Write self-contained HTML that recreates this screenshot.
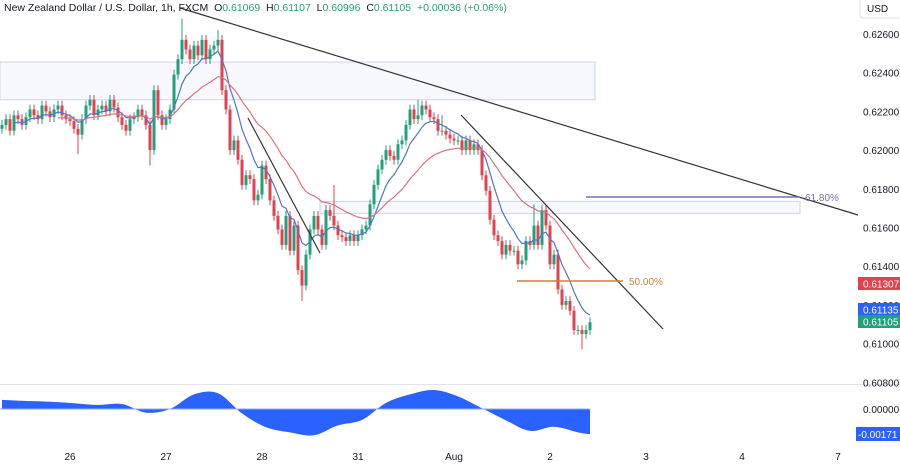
<!DOCTYPE html>
<html><head><meta charset="utf-8"><style>
body{margin:0;background:#fff;font-family:"Liberation Sans",sans-serif;}
svg{display:block}
</style></head><body>
<svg id="chart" width="900" height="465">
<rect x="0" y="0" width="900" height="465" fill="#fff"/>
<g id="marks"></g>
</svg>
<script>
const closes=[0.6213,0.6216,0.6210,0.6218,0.6216,0.6213,0.6217,0.6221,0.6218,0.6216,0.6223,0.6220,0.6217,0.6221,0.6223,0.6218,0.6216,0.6215,0.6211,0.6208,
0.6216,0.6223,0.6226,0.6218,0.6221,0.6223,0.6220,0.6226,0.6222,0.6217,0.6213,0.6210,0.6216,0.6217,0.6221,0.6218,0.6213,0.6200,
0.6231,0.6218,0.6213,0.6216,0.6221,0.6239,0.6247,0.6257,
0.6252,0.6247,0.6254,0.6249,0.6257,0.6247,0.6252,0.6254,0.6257,0.6231,
0.6221,0.6200,0.6205,0.6195,0.6182,0.6187,0.6185,0.6174,0.6177,0.6192,0.6185,0.6174,0.6166,0.6159,0.6151,0.6166,0.6148,0.6161,0.6138,0.6130,
0.6146,0.6159,0.6166,0.6159,0.6151,0.6169,0.6166,0.6161,0.6156,0.6155,0.6153,0.6156,0.6153,0.6156,0.6159,
0.6161,0.6172,0.6182,0.6190,0.6195,0.6200,0.6197,0.6195,0.6203,0.6205,0.6213,0.6221,0.6216,0.6218,0.6223,0.6221,0.6217,
0.6216,0.6210,0.6210,0.6208,0.6206,0.6205,0.6205,0.6200,0.6205,0.6200,0.6203,0.6200,0.6187,0.6179,0.6164,
0.6156,0.6153,0.6146,0.6151,0.6148,0.6148,0.6141,0.6143,0.6153,0.6151,0.6161,0.6151,0.6169,0.6161,0.6141,
0.6146,0.6128,0.6120,0.6122,0.6117,0.6107,0.6107,0.6105,0.6107,0.6111];
const extremeIdx=[19,37,45,54,75,83,104,110,133,145];
const extremePx=[0.6198,0.6192,0.6268,0.6262,0.6122,0.6182,0.6226,0.6218,0.6172,0.6097];
const oscVals=[0.00062,0.00055,0.00050,0.00040,0.00028,0.00034,-0.00025,0.00000,0.00100,0.00108,-0.00030,-0.00125,-0.00160,-0.00180,-0.00112,-0.00075,0.00042,0.00100,0.00130,0.00086,0.00005,-0.00078,-0.00150,-0.00122,-0.00160,-0.00173];
const priceTicks=[0.626,0.624,0.622,0.620,0.618,0.616,0.614,0.612,0.610,0.608];
const dateLabels=["26","27","28","31","Aug","2","3","4","7"];
const dayStart=[17,41,65,89,113,137,161,185,209];
const WICK=0.00025;

const NS="http://www.w3.org/2000/svg";
const g=document.getElementById('marks');
const py=p=>34+(0.626-p)*19350;
const cx=i=>2+i*4;
const oy=v=>409-v*14620;
function mk(t,a,par){const e=document.createElementNS(NS,t);for(const k in a)e.setAttribute(k,a[k]);(par||g).appendChild(e);return e;}

let z1=mk('rect',{x:0,y:py(0.62455),width:595,height:py(0.6226)-py(0.62455),fill:'#f6f8fd',stroke:'#c9d4ea','stroke-width':1});


let z2=mk('rect',{x:320,y:py(0.61735),width:480,height:py(0.61673)-py(0.61735),fill:'#f6f8fd',stroke:'#c9d4ea','stroke-width':1});



for(let i=0;i<closes.length;i++){
  const c=closes[i], o=i?closes[i-1]:c-0.0002;
  let hi=Math.max(o,c)+WICK, lo=Math.min(o,c)-WICK;
  const k=extremeIdx.indexOf(i);
  if(k>=0){ if(extremePx[k]>Math.max(o,c)) hi=extremePx[k]; else lo=extremePx[k]; }
  const col=c>=o?'#22a07a':'#e0424f';
  const x=cx(i);
  const w=mk('line',{x1:x,x2:x,y1:py(hi),y2:py(lo),stroke:col,'stroke-width':1});
  
  
  const b=mk('rect',{x:x-1.5,y:py(Math.max(o,c)),width:3,height:Math.max(1,Math.abs(py(o)-py(c))),fill:col});
  
  
}
function ema(n){const a=2/(n+1);let r=[],v=closes[0];for(const c of closes){v=c*a+v*(1-a);r.push(v);}return r;}
[[ema(8),'#4a78c8',3,'ma-fast'],[ema(26),'#d9747a',14,'ma-slow']].forEach(([arr,col,st,nm])=>{
  let d='';for(let i=st;i<arr.length;i++)d+=(i==st?'M':'L')+cx(i)+','+py(arr[i]).toFixed(1);
  const p=mk('path',{d:d,fill:'none',stroke:col,'stroke-width':1.2});
  
  
});
[[180,8,858,215,'main-trendline'],[248,118,320,253,'short-trendline'],[461,115,663,329,'recent-trendline']].forEach(([a,b,c,d,n])=>{
  const l=mk('line',{x1:a,y1:b,x2:c,y2:d,stroke:'#333','stroke-width':1.2});
  
  
});
let f1=mk('line',{x1:586,x2:800,y1:197,y2:197,stroke:'#7a6bb5','stroke-width':1.5});


let t1=mk('text',{x:805,y:201,'font-size':10,fill:'#7a6bb5'});t1.textContent='61.80%';


let f2=mk('line',{x1:517,x2:623,y1:281,y2:281,stroke:'#c9823c','stroke-width':1.5});


let t2=mk('text',{x:629,y:285,'font-size':10,fill:'#c9823c'});t2.textContent='50.00%';



// oscillator (smooth)
const pts=oscVals.map((v,j)=>[cx(j<oscVals.length-1?j*6:closes.length-1),oy(v)]);
let od='M'+cx(0)+','+oy(0)+'L'+pts[0][0]+','+pts[0][1].toFixed(1);
for(let i=0;i<pts.length-1;i++){
  const p0=pts[Math.max(0,i-1)],p1=pts[i],p2=pts[i+1],p3=pts[Math.min(pts.length-1,i+2)];
  const c1x=p1[0]+(p2[0]-p0[0])/6,c1y=p1[1]+(p2[1]-p0[1])/6,c2x=p2[0]-(p3[0]-p1[0])/6,c2y=p2[1]-(p3[1]-p1[1])/6;
  od+='C'+c1x.toFixed(1)+','+c1y.toFixed(1)+' '+c2x.toFixed(1)+','+c2y.toFixed(1)+' '+p2[0]+','+p2[1].toFixed(1);
}
od+='L'+cx(closes.length-1)+','+oy(0)+'Z';
const osc=mk('path',{d:od,fill:'#2962ff',stroke:'none'});


let zl=mk('line',{x1:0,x2:cx(closes.length-1),y1:409,y2:409,stroke:'#8fa8f0','stroke-width':1});


let sep=mk('line',{x1:0,x2:900,y1:384.5,y2:384.5,stroke:'#e0e3eb','stroke-width':1});



priceTicks.forEach(p=>{const t=mk('text',{x:863,y:py(p)+4,'font-size':10,fill:'#131722'});t.textContent=p.toFixed(5);

});
[[0.61307,'#e0424f','0.61307','last-red-label'],[0.61135,'#2962ff','0.61135','ma-label'],[0.61105,'#22a07a','0.61105','last-price-label']].forEach(([p,c,s,n],k)=>{
  const yy=[284,310,322][k];
  const r=mk('rect',{x:858,y:yy-7,width:42,height:13,fill:c});
  
  
  const t=mk('text',{x:863,y:yy+3.5,'font-size':10,fill:'#fff'});t.textContent=s;
  
  
});
let ot=mk('text',{x:863,y:413,'font-size':10,fill:'#131722'});ot.textContent='0.00000';


let ob=mk('rect',{x:856,y:427,width:44,height:14,fill:'#2962ff'});


let ov=mk('text',{x:858,y:438,'font-size':10,fill:'#fff'});ov.textContent='-0.00171';


let ub=mk('rect',{x:860,y:-4,width:44,height:22,rx:3,fill:'#fff',stroke:'#e0e3eb'});


let ut=mk('text',{x:867,y:12,'font-size':10,fill:'#131722'});ut.textContent='USD';



dateLabels.forEach((s,k)=>{const t=mk('text',{x:cx(dayStart[k]),y:460,'font-size':10,fill:'#131722','text-anchor':'middle'});t.textContent=s;

});

const h=mk('text',{x:4,y:11,'font-size':10.5,fill:'#131722'});


h.innerHTML='New Zealand Dollar / U.S. Dollar, 1h, FXCM&#160;&#160;O<tspan fill="#22a07a">0.61069</tspan>&#160;&#160;H<tspan fill="#22a07a">0.61107</tspan>&#160;&#160;L<tspan fill="#22a07a">0.60996</tspan>&#160;&#160;C<tspan fill="#22a07a">0.61105</tspan>&#160;&#160;<tspan fill="#22a07a">+0.00036 (+0.06%)</tspan>';
</script>
</body></html>
